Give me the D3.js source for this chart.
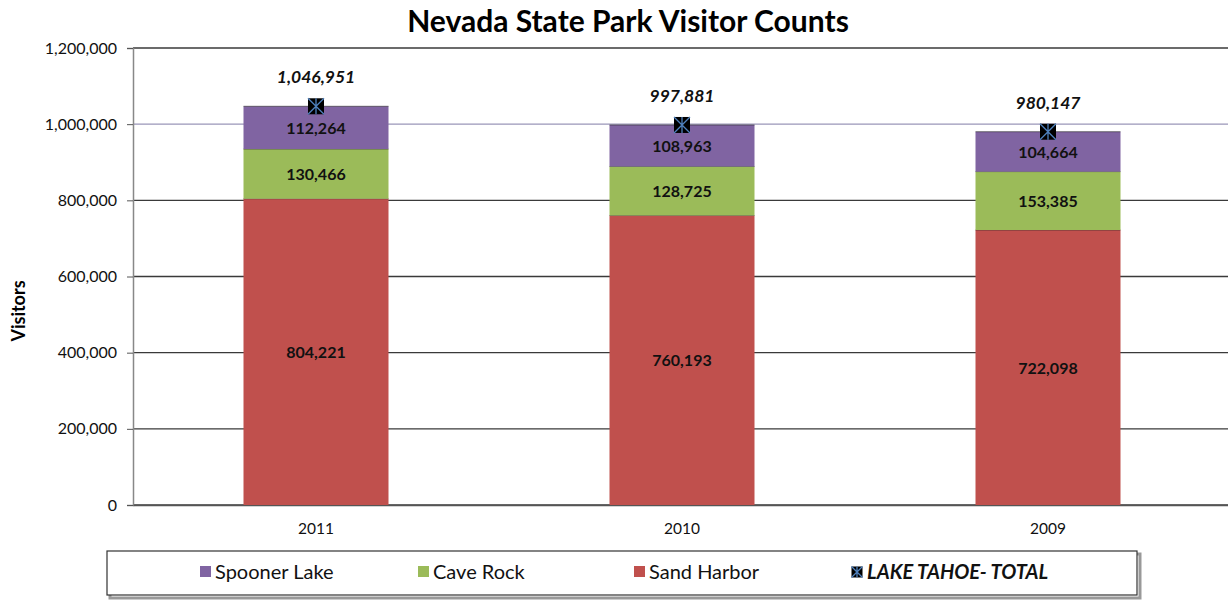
<!DOCTYPE html>
<html><head><meta charset="utf-8">
<script src="https://cdn.jsdelivr.net/npm/d3@7"></script>
<style>body{margin:0;background:#fff}svg{display:block}</style>
</head><body>
<svg id="c" width="1228" height="604"></svg>
<script>
const years = ["2011", "2010", "2009"];
const spoonerLake = [112264, 108963, 104664];
const caveRock = [130466, 128725, 153385];
const sandHarbor = [804221, 760193, 722098];
const lakeTahoeTotal = [1046951, 997881, 980147];
const seriesNames = ["Sand Harbor", "Cave Rock", "Spooner Lake"];
const seriesColors = ["#C0504D", "#9BBB59", "#8064A2"];
const yTicks = [0, 200000, 400000, 600000, 800000, 1000000, 1200000];

(function(){
const svg = d3.select("#c");
const pL = 133, pR = 1231, pT = 48, pB = 505;
const x = d3.scaleBand().domain(years).range([pL, pR]).paddingInner(0.4).paddingOuter(0.2);
const y = d3.scaleLinear().domain([0, 1200000]).range([pB, pT]);
const fmt = d3.format(",");
const font = "Lato, 'Open Sans', sans-serif";

// title
svg.append("text").attr("x", 628).attr("y", 32).attr("text-anchor", "middle")
  .attr("font-family", font).attr("font-weight", "bold").attr("font-size", 30).text("Nevada State Park Visitor Counts");

// gridlines
svg.append("g").selectAll("line").data(yTicks).join("line")
  .attr("x1", pL).attr("x2", 1228).attr("y1", d => y(d)).attr("y2", d => y(d))
  .attr("stroke", d => d === 1000000 ? "#9a96b8" : "#3a3a3a").attr("stroke-width", 1.3);

// y axis
const ya = d3.axisLeft(y).tickValues(yTicks).tickFormat(fmt).tickSize(6).tickPadding(10);
const yg = svg.append("g").attr("transform", `translate(${pL},0)`).call(ya);
yg.select(".domain").attr("stroke", "#888").attr("stroke-width", 1.5);
yg.selectAll(".tick line").attr("stroke", "#555");
yg.selectAll("text").attr("font-family", font).attr("font-size", 16).attr("fill", "#111");

// x axis
const xa = d3.axisBottom(x).tickSize(0).tickPadding(18);
const xg = svg.append("g").attr("transform", `translate(0,${pB})`).call(xa);
xg.select(".domain").attr("stroke", "#555").attr("stroke-width", 1.3);
xg.selectAll("text").attr("font-family", font).attr("font-size", 15.5).attr("fill", "#111");

svg.append("text").attr("transform", "translate(25,311) rotate(-90)").attr("text-anchor", "middle")
  .attr("font-family", font).attr("font-weight", "bold").attr("font-size", 18).text("Visitors");

// stacked bars
const rows = years.map((yr, i) => ({year: yr, "Sand Harbor": sandHarbor[i], "Cave Rock": caveRock[i], "Spooner Lake": spoonerLake[i]}));
const stack = d3.stack().keys(seriesNames)(rows);
const bw = 145;
const cxOf = yr => x(yr) + x.bandwidth()/2;
stack.forEach((s, si) => {
  const g = svg.append("g");
  g.selectAll("rect").data(s).join("rect")
    .attr("x", d => cxOf(d.data.year) - bw/2).attr("width", bw)
    .attr("y", d => y(d[1])).attr("height", d => y(d[0]) - y(d[1]))
    .attr("fill", seriesColors[si]);
  g.selectAll("line").data(s).join("line")
    .attr("x1", d => cxOf(d.data.year) - bw/2).attr("x2", d => cxOf(d.data.year) + bw/2)
    .attr("y1", d => y(d[1])).attr("y2", d => y(d[1])).attr("stroke", "rgba(40,40,40,0.6)").attr("stroke-width", 1);
  g.selectAll("text").data(s).join("text")
    .attr("x", d => cxOf(d.data.year)).attr("y", d => (y(d[0]) + y(d[1]))/2 + 6)
    .attr("text-anchor", "middle").attr("font-family", font).attr("font-weight", "bold").attr("font-size", 16)
    .attr("fill", "#111").text(d => fmt(d[1] - d[0]));
});

// totals markers
function marker(g, cx, cy, s) {
  g.append("rect").attr("x", cx - s/2).attr("y", cy - s/2).attr("width", s).attr("height", s).attr("fill", "#000");
  g.append("path").attr("d", `M${cx-s/2},${cy-s/2}L${cx+s/2},${cy+s/2}M${cx+s/2},${cy-s/2}L${cx-s/2},${cy+s/2}M${cx},${cy-s/2}L${cx},${cy+s/2}`)
    .attr("stroke", "#4F81BD").attr("stroke-width", 1.3).attr("fill", "none");
}
const mg = svg.append("g");
lakeTahoeTotal.forEach((v, i) => {
  const cx = cxOf(years[i]);
  marker(mg, cx, y(v), 16);
  mg.append("text").attr("x", cx).attr("y", y(v) - 23).attr("text-anchor", "middle")
    .attr("font-family", font).attr("font-weight", "bold").attr("font-style", "italic").attr("font-size", 17.5)
    .attr("fill", "#111").text(fmt(v));
});

// legend
const lg = svg.append("g");
lg.append("rect").attr("x", 110).attr("y", 554).attr("width", 1030).attr("height", 44).attr("fill", "none").attr("stroke", "#999").attr("stroke-width", 3);
lg.append("rect").attr("x", 107).attr("y", 551).attr("width", 1030).attr("height", 44).attr("fill", "#fff").attr("stroke", "#333").attr("stroke-width", 1.2);
const legItems = [
  {name: "Spooner Lake", color: seriesColors[2], x: 200},
  {name: "Cave Rock", color: seriesColors[1], x: 418},
  {name: "Sand Harbor", color: seriesColors[0], x: 634}
];
legItems.forEach(d => {
  lg.append("rect").attr("x", d.x).attr("y", 566).attr("width", 11).attr("height", 11).attr("fill", d.color);
  lg.append("text").attr("x", d.x + 15).attr("y", 579).attr("font-family", font).attr("font-size", 20).attr("fill", "#111").text(d.name);
});
marker(lg, 857, 572, 11);
lg.append("text").attr("x", 867).attr("y", 579).attr("font-family", font).attr("font-weight", "bold").attr("font-style", "italic")
  .attr("font-size", 20).attr("fill", "#111").text("LAKE TAHOE- TOTAL");
})();
</script>
</body></html>
